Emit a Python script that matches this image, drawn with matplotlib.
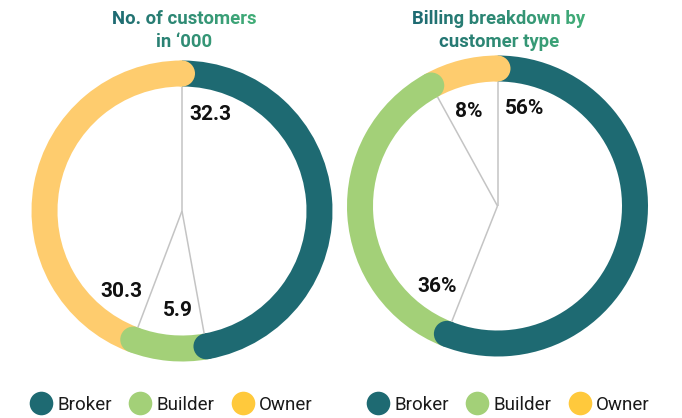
import numpy as np
import matplotlib
matplotlib.use("Agg")
import matplotlib.pyplot as plt
from matplotlib.patches import Wedge, Circle
from matplotlib.lines import Line2D

# ---------------- data ----------------
categories = ["Broker", "Builder", "Owner"]
customers = [32.3, 5.9, 30.3]
customer_labels = ["32.3", "5.9", "30.3"]
billing = [56, 36, 8]
billing_labels = ["56%", "36%", "8%"]
titles = ["No. of customers\nin \u2018000", "Billing breakdown by\ncustomer type"]

ring_colors = ["#1E6A72", "#A3D078", "#FECC6E"]
legend_colors = ["#1E6A72", "#A3D078", "#FFC93C"]
grad_start = np.array([0x1E, 0x6A, 0x72]) / 255.0
grad_end = np.array([0x42, 0xAE, 0x78]) / 255.0

plt.rcParams["font.family"] = ["Roboto", "DejaVu Sans"]

W, H = 682, 418
fig = plt.figure(figsize=(W / 100, H / 100), dpi=100)
renderer = fig.canvas.get_renderer()


def px_axes(cx, cy, half=165):
    ax = fig.add_axes([(cx - half) / W, (H - cy - half) / H, 2 * half / W, 2 * half / H])
    ax.set_xlim(-half, half)
    ax.set_ylim(-half, half)
    ax.axis("off")
    return ax


def donut(ax, values, labels, R=150.5, width=26, r_label=97):
    total = float(sum(values))
    bounds = np.concatenate([[0], np.cumsum(values)]) / total * 360.0
    n = len(values)
    for i in range(n):
        ax.add_patch(Wedge((0, 0), R, 90 - bounds[i + 1], 90 - bounds[i], width=width,
                           facecolor=ring_colors[i], edgecolor="none", lw=0))
    rm = R - width / 2
    for i in range(n):
        th = np.radians(bounds[i + 1])
        ax.add_patch(Circle((rm * np.sin(th), rm * np.cos(th)), width / 2,
                            facecolor=ring_colors[i], edgecolor="none", lw=0, zorder=2))
    rin = R - width
    for i in range(n):
        th = np.radians(bounds[i])
        ax.plot([0, rin * np.sin(th)], [0, rin * np.cos(th)], color="#C4C4C4", lw=1.1,
                solid_capstyle="butt", zorder=3)
    for i in range(n):
        th = np.radians(bounds[i])
        t = ax.text(0, 0, labels[i], ha="center", va="center", fontsize=15,
                    fontweight="bold", color="#111111", zorder=4)
        bb = t.get_window_extent(renderer=renderer)
        hw = bb.width / 2
        p = r_label * np.array([np.sin(th), np.cos(th)])
        tang = np.array([np.cos(th), -np.sin(th)])
        q = p + tang * (7 + hw)
        t.set_position((q[0], q[1]))


def gradient_filter(img, dpi):
    h, w = img.shape[:2]
    t = np.linspace(0, 1, max(w, 2))[:w]
    rgb = grad_start[None, :] * (1 - t[:, None]) + grad_end[None, :] * t[:, None]
    out = img.copy()
    out[:, :, :3] = rgb[None, :, :]
    return out, 0, 0


def title(cx, y_top, text):
    t = fig.text(cx / W, 1 - y_top / H, text, ha="center", va="top", fontsize=13.3,
                 fontweight="bold", color="#1E6A72", linespacing=1.34)
    t.set_agg_filter(gradient_filter)


def legend(cx):
    handles = [Line2D([0], [0], marker="o", ls="None", ms=17, markerfacecolor=c,
                      markeredgecolor=c, markeredgewidth=0) for c in legend_colors]
    fig.legend(handles, categories, loc="center", bbox_to_anchor=(cx / W, 13 / H), ncol=3,
               frameon=False, fontsize=13.5, handlelength=1.3, handletextpad=0.22,
               columnspacing=0.85, borderpad=0, borderaxespad=0, labelcolor="#1A1A1A")


ax1 = px_axes(182, 211)
donut(ax1, customers, customer_labels)
ax2 = px_axes(497.5, 206)
donut(ax2, billing, billing_labels)

title(184, 10, titles[0])
title(499, 10, titles[1])
legend(171)
legend(508)

fig.savefig("out.png", dpi=100)
